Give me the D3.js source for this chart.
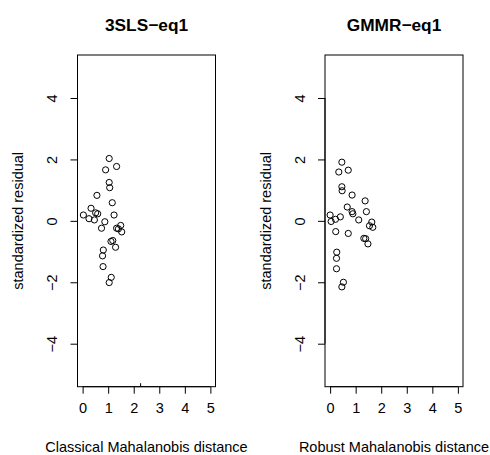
<!DOCTYPE html>
<html>
<head>
<meta charset="utf-8">
<script src="https://cdn.jsdelivr.net/npm/d3@7"></script>
<style>
	body { margin: 0; background: #fff; overflow: hidden; }
	svg { display: block; }
	svg text { font-family: "Liberation Sans", Arial, Helvetica, sans-serif; fill: #000; }
</style>
</head>
<body>
<script>
// panel 1: classical distance vs 3SLS standardized residual
var classicalDist = [1.04, 1.33, 0.90, 1.04, 1.06, 0.56, 1.16, 0.33, 1.23, 0.03, 0.51, 0.59, 0.25, 0.46,
	0.87, 0.74, 1.49, 1.33, 1.40, 1.53, 1.11, 1.18, 1.29, 0.81, 0.78, 0.80, 1.12, 1.04];
var slsResid = [2.03, 1.77, 1.66, 1.25, 1.08, 0.83, 0.59, 0.41, 0.19, 0.19, 0.26, 0.23, 0.07, 0.03,
	-0.03, -0.24, -0.15, -0.24, -0.26, -0.36, -0.67, -0.64, -0.86, -0.95, -1.14, -1.49, -1.84, -2.01];

// panel 2: robust distance vs GMMR standardized residual
var robustDist = [0.46, 0.34, 0.71, 0.46, 0.47, 0.86, 1.37, 0.67, 1.42, 0.86, 0.89, 0.00, 0.40, 0.21,
	0.04, 1.12, 1.63, 1.54, 1.67, 0.22, 0.71, 1.32, 1.39, 1.48, 0.26, 0.25, 0.25, 0.52, 0.46];
var gmmrResid = [1.91, 1.59, 1.65, 1.11, 0.98, 0.84, 0.65, 0.45, 0.30, 0.30, 0.23, 0.19, 0.13, 0.05,
	-0.02, 0.03, -0.04, -0.16, -0.21, -0.35, -0.41, -0.57, -0.58, -0.75, -1.02, -1.22, -1.56, -2.00, -2.15];

var xTicks = [0, 1, 2, 3, 4, 5];
var yTicks = [-4, -2, 0, 2, 4];
var xDomain = [-0.2, 5.2];
var yDomain = [-5.4, 5.4];
var strayMark = [2.27]; // small stray tick seen in the first panel

var panels = [
	{ title: "3SLS\u2212eq1", xlab: "Classical Mahalanobis distance", x: classicalDist, y: slsResid, left: 77.5, marks: strayMark },
	{ title: "GMMR\u2212eq1", xlab: "Robust Mahalanobis distance", x: robustDist, y: gmmrResid, left: 325, marks: [] }
];

var W = 490, H = 455;
var plotTop = 55, plotH = 331.7, plotW = 138;

var svg = d3.select("body").append("svg")
	.attr("width", W)
	.attr("height", H);

panels.forEach(function (p) {
	var xScale = d3.scaleLinear().domain(xDomain).range([p.left, p.left + plotW]);
	var yScale = d3.scaleLinear().domain(yDomain).range([plotTop + plotH, plotTop]);
	var g = svg.append("g");
	var cx = p.left + plotW / 2;

	// box
	g.append("rect")
		.attr("x", p.left)
		.attr("y", plotTop)
		.attr("width", plotW)
		.attr("height", plotH)
		.attr("fill", "none")
		.attr("stroke", "#000")
		.attr("stroke-width", 1);

	// x axis
	var xAxis = d3.axisBottom(xScale).tickValues(xTicks).tickSize(7).tickPadding(19).tickFormat(d3.format("d"));
	var gx = g.append("g")
		.attr("transform", "translate(0," + (plotTop + plotH) + ")")
		.call(xAxis);
	gx.select(".domain").attr("d", "M" + xScale(0) + ",0H" + xScale(5));
	gx.selectAll("text").style("font-size", "14.5px").attr("dy", "0");

	// y axis (labels parallel to axis, as in R)
	var yAxis = d3.axisLeft(yScale).tickValues(yTicks).tickSize(7).tickFormat(d3.format("d"));
	var gy = g.append("g")
		.attr("transform", "translate(" + p.left + ",0)")
		.call(yAxis);
	gy.select(".domain").attr("d", "M0," + yScale(-4) + "V" + yScale(4));
	gy.selectAll(".tick text")
		.attr("x", null).attr("dy", null)
		.attr("text-anchor", "middle")
		.attr("transform", "translate(-20.5,0) rotate(-90)")
		.style("font-size", "14.5px")
		.text(function (d) { return d < 0 ? "\u2212" + Math.abs(d) : d; });
	g.selectAll(".domain, .tick line").attr("stroke", "#000");

	// stray small mark
	g.selectAll("line.mark")
		.data(p.marks)
		.enter()
		.append("line")
		.attr("class", "mark")
		.attr("x1", d => xScale(d)).attr("x2", d => xScale(d))
		.attr("y1", plotTop + plotH - 3.5).attr("y2", plotTop + plotH)
		.attr("stroke", "#000");

	// points
	g.selectAll("circle")
		.data(p.x.map((v, i) => [v, p.y[i]]))
		.enter()
		.append("circle")
		.attr("cx", d => xScale(d[0]))
		.attr("cy", d => yScale(d[1]))
		.attr("r", 3.1)
		.attr("fill", "none")
		.attr("stroke", "#000")
		.attr("stroke-width", 1);

	// title
	g.append("text")
		.attr("x", cx)
		.attr("y", 31)
		.attr("text-anchor", "middle")
		.style("font-size", "17.3px")
		.style("font-weight", "bold")
		.text(p.title);

	// x label
	g.append("text")
		.attr("x", cx)
		.attr("y", 452)
		.attr("text-anchor", "middle")
		.style("font-size", "14.5px")
		.text(p.xlab);

	// y label
	g.append("text")
		.attr("transform", "translate(" + (p.left - 54.5) + "," + (plotTop + plotH / 2) + ") rotate(-90)")
		.attr("text-anchor", "middle")
		.style("font-size", "14.5px")
		.text("standardized residual");
});
</script>
</body>
</html>
